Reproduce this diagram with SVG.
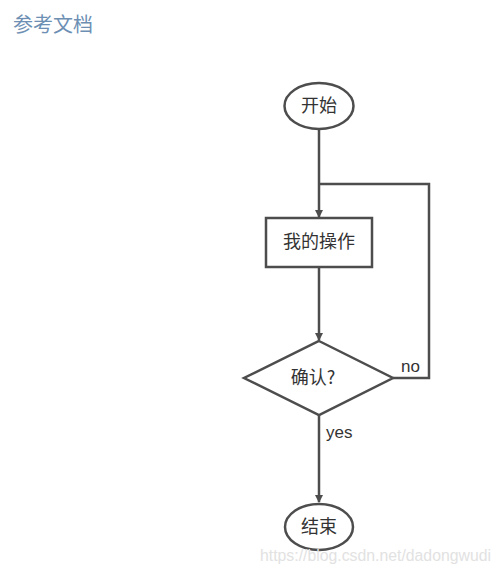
<svg xmlns="http://www.w3.org/2000/svg" width="501" height="573" viewBox="0 0 501 573">
<style>
.s{fill:#fff;stroke:#4d4d4d;stroke-width:2.5}
.l{fill:none;stroke:#4d4d4d;stroke-width:2.5}
.t{font-family:"Noto Sans CJK SC","Liberation Sans",sans-serif;font-size:18px;fill:#333;text-anchor:middle}
.e{font-family:"Liberation Sans",sans-serif;font-size:17px;fill:#333}
</style>
<defs>
<marker id="a" markerWidth="8" markerHeight="8" refX="7" refY="4" orient="auto" markerUnits="userSpaceOnUse">
<path d="M0,0 L8,4 L0,8 Z" fill="#4d4d4d"/>
</marker>
</defs>
<rect width="501" height="573" fill="#fff"/>
<text x="13" y="32" font-family="Noto Sans CJK SC,sans-serif" font-size="20" fill="#6c8fb3">参考文档</text>
<g id="connectors">
<path class="l" d="M319,129 V217" marker-end="url(#a)"/>
<path class="l" d="M393,378 H429 V184 H319"/>
<path class="l" d="M319,268 V340" marker-end="url(#a)"/>
<path class="l" d="M319,415 V502" marker-end="url(#a)"/>
<text class="e" x="401" y="372">no</text>
<text class="e" x="326" y="438">yes</text>
</g>
<g id="start">
<ellipse class="s" cx="319" cy="106" rx="34.5" ry="23"/>
<text class="t" x="319" y="112">开始</text>
</g>
<g id="op">
<rect class="s" x="266" y="218" width="106" height="49"/>
<text class="t" x="319" y="248">我的操作</text>
</g>
<g id="confirm">
<path class="s" d="M319,341 L393,378 L319,415 L244,378 Z"/>
<text class="t" x="313" y="384">确认?</text>
</g>
<g id="end">
<ellipse class="s" cx="319" cy="527" rx="34" ry="23"/>
<text class="t" x="319" y="533">结束</text>
</g>
<text x="260" y="561" font-family="Liberation Sans,sans-serif" font-size="15.8" fill="#e2e2e2">https://blog.csdn.net/dadongwudi</text>
</svg>
